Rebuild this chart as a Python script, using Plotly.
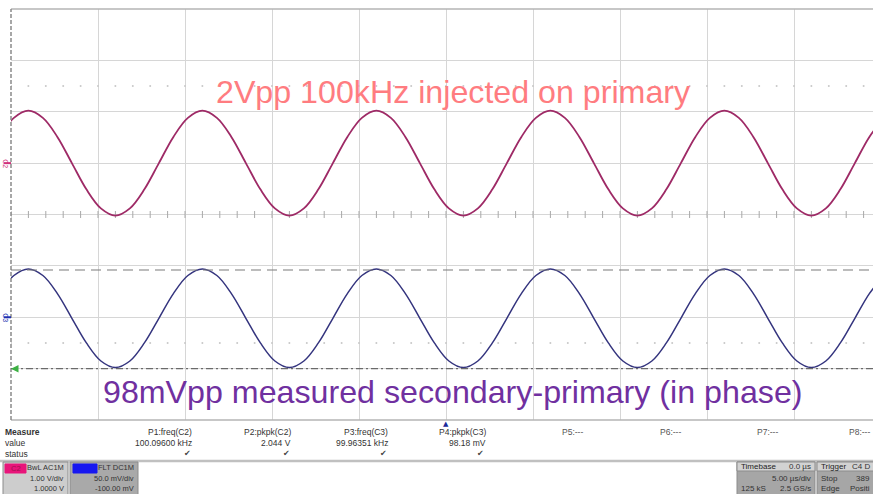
import plotly.graph_objects as go

# ---------------- data ----------------
T0_US = -0.667          # time of first sample (µs)
DT_US = 0.8333          # sample spacing (µs)

# C2 (primary, volts)
C2_V = [0.51, 0.88, 1.02, 0.88, 0.51, 0.0, -0.51, -0.88, -1.02, -0.88, -0.51, 0.0,
        0.51, 0.88, 1.02, 0.88, 0.51, 0.0, -0.51, -0.88, -1.02, -0.88, -0.51, 0.0,
        0.51, 0.88, 1.02, 0.88, 0.51, 0.0, -0.51, -0.88, -1.02, -0.88, -0.51, 0.0,
        0.51, 0.88, 1.02, 0.88, 0.51, 0.0, -0.51, -0.88, -1.02, -0.88, -0.51, 0.0,
        0.51, 0.88, 1.02, 0.88, 0.51, 0.0, -0.51, -0.88, -1.02, -0.88, -0.51, 0.0,
        0.51, 0.88]
# C3 (secondary-primary, millivolts)
C3_MV = [23, 40.6, 47, 40.6, 23, -1, -25, -42.6, -49, -42.6, -25, -1,
         23, 40.6, 47, 40.6, 23, -1, -25, -42.6, -49, -42.6, -25, -1,
         23, 40.6, 47, 40.6, 23, -1, -25, -42.6, -49, -42.6, -25, -1,
         23, 40.6, 47, 40.6, 23, -1, -25, -42.6, -49, -42.6, -25, -1,
         23, 40.6, 47, 40.6, 23, -1, -25, -42.6, -49, -42.6, -25, -1,
         23, 40.6]

C2_VDIV, C2_OFFSET = 1.0, 1.0        # V/div, V
C3_VDIV, C3_OFFSET = 50.0, -100.0    # mV/div, mV
TDIV_US = 5.0
CURSOR_HI_MV = 46
CURSOR_LO_MV = -50

MEAS_NAMES = ["P1:freq(C2)", "P2:pkpk(C2)", "P3:freq(C3)", "P4:pkpk(C3)"]
MEAS_VALUES = ["100.09600 kHz", "2.044 V", "99.96351 kHz", "98.18 mV"]
EMPTY_MEAS = ["P5:---", "P6:---", "P7:---", "P8:---"]

TITLE_TOP = "2Vpp 100kHz injected on primary"
TITLE_BOT = "98mVpp measured secondary-primary (in phase)"

# ---------------- layout helpers (pixel -> paper) ----------------
W, H = 873, 494
L, T, B = 11, 9, 74
PW, PH = W - L, H - T - B


def px(x):
    return (x - L) / PW


def py(y):
    return (H - B - y) / PH


FONT = "Liberation Sans, Arial, sans-serif"
x_max = (W - L) / 87.0 * TDIV_US

fig = go.Figure()

# graticule decorations: ticks on centre line, dotted rows
tick_x = [i * 1.0 for i in range(0, 50)]
c2_center = -C2_OFFSET  # 0 div on the C2 axis
fig.add_trace(go.Scatter(x=tick_x, y=[c2_center] * len(tick_x), mode="markers",
                         marker=dict(symbol="line-ns", size=5, line=dict(width=1, color="#a8a8a8")),
                         hoverinfo="skip", showlegend=False))
for d in (2.5, -2.5):
    fig.add_trace(go.Scatter(x=tick_x, y=[d * C2_VDIV - C2_OFFSET] * len(tick_x), mode="markers",
                             marker=dict(symbol="circle", size=2, color="#c8c8c8"),
                             hoverinfo="skip", showlegend=False))

fig.add_trace(go.Scatter(x0=T0_US, dx=DT_US, y=C2_V, mode="lines", line_shape="spline",
                         line=dict(color="#9e2a66", width=1.8), showlegend=False, yaxis="y"))
fig.add_trace(go.Scatter(x0=T0_US, dx=DT_US, y=C3_MV, mode="lines", line_shape="spline",
                         line=dict(color="#34347e", width=1.5), showlegend=False, yaxis="y2"))

c2_lo = -4 * C2_VDIV - C2_OFFSET
c2_hi = 4 * C2_VDIV - C2_OFFSET
c3_lo = -4 * C3_VDIV - C3_OFFSET
c3_hi = 4 * C3_VDIV - C3_OFFSET

fig.update_layout(
    width=W, height=H,
    margin=dict(l=L, r=0, t=T, b=B),
    paper_bgcolor="white", plot_bgcolor="white",
    xaxis=dict(range=[0, x_max], dtick=TDIV_US, tick0=0, showgrid=True, gridcolor="#d6d6d6",
               gridwidth=1, zeroline=False, showticklabels=False, ticks="", showline=False),
    yaxis=dict(range=[c2_lo, c2_hi], dtick=C2_VDIV, tick0=0, showgrid=True, gridcolor="#d6d6d6",
               zeroline=False, showticklabels=False, ticks="", showline=False),
    yaxis2=dict(range=[c3_lo, c3_hi], overlaying="y", showgrid=False, zeroline=False,
                showticklabels=False, ticks="", showline=False),
    font=dict(family=FONT, color="#333333"),
)

shapes = []
# frame lines
shapes.append(dict(type="line", xref="paper", yref="paper", x0=0, x1=1, y0=1, y1=1,
                   line=dict(color="#b4b4b4", width=1.5)))
shapes.append(dict(type="line", xref="paper", yref="paper", x0=0, x1=1, y0=0, y1=0,
                   line=dict(color="#b4b4b4", width=1.5)))
shapes.append(dict(type="line", xref="paper", yref="paper", x0=0, x1=0, y0=0, y1=1,
                   line=dict(color="#8a8a8a", width=1.5, dash="4px,2px")))
# cursors on C3
shapes.append(dict(type="line", xref="paper", yref="y2", x0=0, x1=1, y0=CURSOR_HI_MV, y1=CURSOR_HI_MV,
                   line=dict(color="#7a7a7a", width=1.2, dash="10px,6px")))
shapes.append(dict(type="line", xref="paper", yref="y2", x0=0, x1=1, y0=CURSOR_LO_MV, y1=CURSOR_LO_MV,
                   line=dict(color="#6a6a6a", width=1.2, dash="7px,3px,2px,3px")))
# channel markers
shapes.append(dict(type="line", xref="paper", yref="y", x0=px(4), x1=px(11), y0=0, y1=0,
                   line=dict(color="#d0307a", width=2)))
shapes.append(dict(type="line", xref="paper", yref="y2", x0=px(4), x1=px(11), y0=0, y1=0,
                   line=dict(color="#2030b0", width=2)))
# measurement separator
shapes.append(dict(type="line", xref="paper", yref="paper", x0=px(0), x1=px(873), y0=py(461), y1=py(461),
                   line=dict(color="#c0c0c0", width=2.5)))


def rect(x0, y0, x1, y1, fill, line="#8c8c8c"):
    shapes.append(dict(type="rect", xref="paper", yref="paper", x0=px(x0), x1=px(x1), y0=py(y1), y1=py(y0),
                       fillcolor=fill, line=dict(color=line, width=1)))


rect(3, 462, 68, 495, "#cdcdcd")
rect(5, 464, 26, 473, "#e8157a", line="#e8157a")
rect(70, 462, 138, 495, "#a9a9a9")
rect(73, 464, 97, 473, "#1717f0", line="#1717f0")
rect(737, 462, 815, 495, "#a6a6a6")
rect(737, 462, 815, 471, "#d2d2d2")
rect(817, 462, 880, 495, "#a6a6a6")
rect(817, 462, 880, 471, "#d2d2d2")
fig.update_layout(shapes=shapes)

ann = []


def text(x, y, s, size=8.5, color="#333333", anchor="left", bold=False, family=FONT):
    ann.append(dict(xref="paper", yref="paper", x=px(x), y=py(y), text=f"<b>{s}</b>" if bold else s,
                    showarrow=False, xanchor=anchor, yanchor="middle",
                    font=dict(size=size, color=color, family=family)))


# big captions
text(453, 92, TITLE_TOP, size=32.2, color="#FF7C80", anchor="center")
text(453, 392, TITLE_BOT, size=32.2, color="#7030A0", anchor="center")

# channel labels
ann.append(dict(xref="paper", yref="y", x=px(6), y=0, text="C2", showarrow=False, textangle=90,
                font=dict(size=7, color="#d0307a", family=FONT), xanchor="center", yanchor="middle"))
ann.append(dict(xref="paper", yref="y2", x=px(6), y=0, text="C3", showarrow=False, textangle=90,
                font=dict(size=7, color="#2030b0", family=FONT), xanchor="center", yanchor="middle"))
# trigger level arrow
ann.append(dict(xref="paper", yref="y2", x=px(11), y=CURSOR_LO_MV, ax=8, ay=0, text="", showarrow=True,
                arrowhead=2, arrowsize=1, arrowwidth=1.5, arrowcolor="#3cb043"))
# trigger position marker
text(446, 424, "▲", size=7, color="#1a2a9a", anchor="center", family="DejaVu Sans")

# measurement table
text(3, 432, "Measure", bold=True)
text(3, 443, "value")
text(3, 454, "status")
right_ends = [194, 293, 390, 488]
for xr, name, val in zip(right_ends, MEAS_NAMES, MEAS_VALUES):
    text(xr, 432, name, anchor="right")
    text(xr, 443, val, anchor="right")
    text(xr - 7, 454, "✔", size=8, color="#444444", anchor="center", family="DejaVu Sans")
for xl, name in zip([560, 658, 755, 847], EMPTY_MEAS):
    text(xl, 432, name, color="#555555")

# channel boxes
text(23, 468.5, "C2", size=7.5, color="#a01050", anchor="right")
text(66, 467, "BwL AC1M", size=7.5, anchor="right")
text(66, 478, "1.00 V/div", size=7.5, anchor="right")
text(66, 489, "1.0000 V", size=7.5, anchor="right")
text(136, 467, "FLT DC1M", size=7.5, anchor="right")
text(136, 478, "50.0 mV/div", size=7.5, anchor="right")
text(136, 489, "-100.00 mV", size=7.5, anchor="right")

# timebase / trigger boxes
text(739, 466.5, "Timebase", size=8, color="#222222")
text(813, 466.5, "0.0 µs", size=8, anchor="right")
text(813, 478, "5.00 µs/div", size=8, anchor="right")
text(739, 489, "125 kS", size=8)
text(813, 489, "2.5 GS/s", size=8, anchor="right")
text(819, 466.5, "Trigger", size=8, color="#222222")
text(872, 466.5, "C4 D", size=8, anchor="right")
text(819, 478, "Stop", size=8)
text(872, 478, "389", size=8, anchor="right")
text(819, 489, "Edge", size=8)
text(872, 489, "Positi", size=8, anchor="right")

fig.update_layout(annotations=ann)
fig.write_html("out.html",
               config={"displayModeBar": False},
               post_script="document.body.style.margin='0';document.body.style.padding='0';"
                           "document.documentElement.style.overflow='hidden';")
